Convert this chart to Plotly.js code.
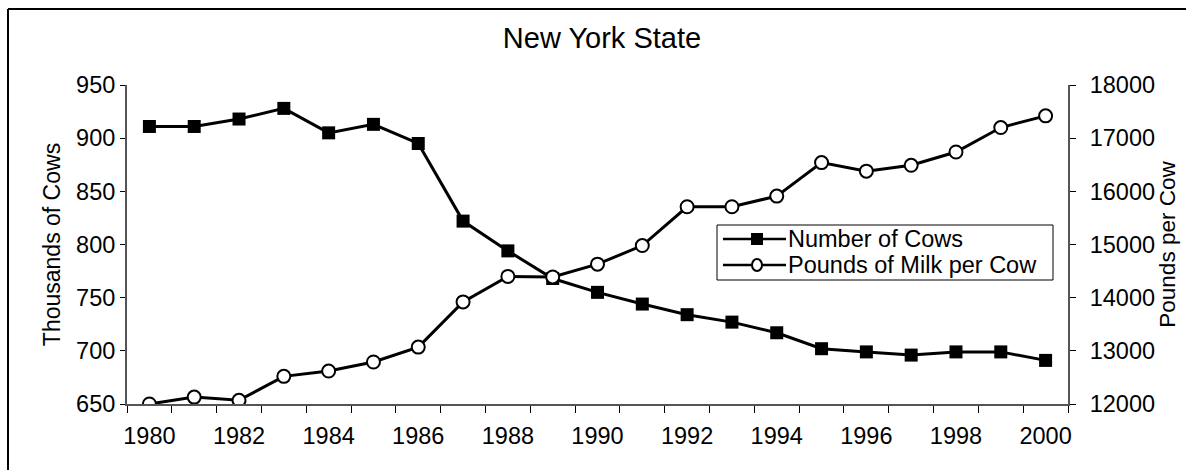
<!DOCTYPE html>
<html>
<head>
<meta charset="utf-8">
<script src="https://cdn.plot.ly/plotly-3.0.1.min.js"></script>
<style>html,body{margin:0;padding:0;background:#fff;}#chart{width:1186px;height:470px;}</style>
</head>
<body>
<div id="chart"></div>
<script>
const years = [1980,1981,1982,1983,1984,1985,1986,1987,1988,1989,1990,1991,1992,1993,1994,1995,1996,1997,1998,1999,2000];
const cows = [911,911,918,928,905,913,895,822,794,768,755,744,734,727,717,702,699,696,699,699,691];
const milkPerCow = [12000,12130,12070,12520,12620,12790,13070,13920,14400,14390,14630,14980,15710,15710,15910,16540,16380,16490,16740,17200,17420];
const cowsName = "Number of Cows";
const milkName = "Pounds of Milk per Cow";
const chartTitle = "New York State";
const leftTitle = "Thousands of Cows";
const rightTitle = "Pounds per Cow";

const FONT = "Liberation Sans, Arial, sans-serif";
const W = 1186, H = 470, L = 127, R = 118, T = 85, B = 66;
const pw = W - L - R, ph = H - T - B;
const px = x => (x - L) / pw;
const py = y => (H - B - y) / ph;

const traces = [
  {x: years, y: cows, name: cowsName, type: 'scatter', mode: 'lines+markers', yaxis: 'y',
   line: {color: '#000', width: 3},
   marker: {symbol: 'square', size: 13, color: '#000', line: {color: '#000', width: 0}}},
  {x: years, y: milkPerCow, name: milkName, type: 'scatter', mode: 'lines+markers', yaxis: 'y2',
   line: {color: '#000', width: 3},
   marker: {symbol: 'circle', size: 13, color: '#fff', line: {color: '#000', width: 2}}}
];

// legend drawn as a framed box (Excel style)
const lgX0 = 717, lgX1 = 1053, lgY0 = 225, lgY1 = 280;
const rowY = [239, 265];
const lineX0 = 723, lineX1 = 786, symX = 757, textX = 787;

const axisLine = '#555';
const layout = {
  width: W, height: H,
  margin: {l: L, r: R, t: T, b: B, pad: 0},
  paper_bgcolor: '#fff', plot_bgcolor: '#fff',
  font: {family: FONT, size: 23.5, color: '#000'},
  title: {text: chartTitle, font: {family: FONT, size: 29, color: '#000'},
          x: 602 / W, xanchor: 'center', xref: 'container',
          y: 1 - 38 / H, yanchor: 'middle', yref: 'container'},
  showlegend: false,
  xaxis: {range: [1979.5, 2000.5], tickmode: 'linear', tick0: 1980, dtick: 2,
          ticks: 'outside', ticklen: 0, showgrid: false, zeroline: false,
          showline: true, linecolor: axisLine, linewidth: 2,
          tickfont: {family: FONT, size: 23.5},
          ticklabelstandoff: 10,
          minor: {tick0: 1979.5, dtick: 1, ticks: 'outside', ticklen: 7, tickcolor: '#000', tickwidth: 1, showgrid: false}},
  yaxis: {range: [650, 950], tickmode: 'linear', tick0: 650, dtick: 50,
          ticks: 'outside', ticklen: 5, tickcolor: '#000', showgrid: false, zeroline: false,
          showline: true, linecolor: axisLine, linewidth: 2,
          tickfont: {family: FONT, size: 23.5}, ticklabelstandoff: 0,
          title: {text: leftTitle, font: {family: FONT, size: 23}, standoff: 9}},
  yaxis2: {range: [12000, 18000], tickmode: 'linear', tick0: 12000, dtick: 1000, tickformat: 'd',
           overlaying: 'y', side: 'right',
           ticks: 'outside', ticklen: 6, tickcolor: '#000', showgrid: false, zeroline: false,
           showline: true, linecolor: axisLine, linewidth: 2,
           tickfont: {family: FONT, size: 23.5}, ticklabelstandoff: 9,
           title: {text: rightTitle, font: {family: FONT, size: 22.5}, standoff: 4}},
  annotations: [
    {xref: 'paper', yref: 'paper', x: px(textX), y: py(rowY[0]), xanchor: 'left', yanchor: 'middle',
     text: cowsName, showarrow: false, font: {family: FONT, size: 23.5, color: '#000'}, borderpad: 0},
    {xref: 'paper', yref: 'paper', x: px(textX), y: py(rowY[1]), xanchor: 'left', yanchor: 'middle',
     text: milkName, showarrow: false, font: {family: FONT, size: 23.5, color: '#000'}, borderpad: 0}
  ],
  shapes: [
    {type: 'line', xref: 'paper', yref: 'paper', x0: px(8), x1: px(8), y0: py(H + 5), y1: py(9),
     line: {color: '#000', width: 2}},
    {type: 'line', xref: 'paper', yref: 'paper', x0: px(8), x1: px(W + 5), y0: py(9), y1: py(9),
     line: {color: '#000', width: 2}},
    {type: 'rect', xref: 'paper', yref: 'paper', x0: px(lgX0), x1: px(lgX1), y0: py(lgY1), y1: py(lgY0),
     fillcolor: '#fff', line: {color: '#000', width: 1}, layer: 'above'},
    {type: 'line', xref: 'paper', yref: 'paper', x0: px(lineX0), x1: px(lineX1), y0: py(rowY[0]), y1: py(rowY[0]),
     line: {color: '#000', width: 2.5}, layer: 'above'},
    {type: 'rect', xref: 'paper', yref: 'paper', x0: px(symX - 6), x1: px(symX + 6), y0: py(rowY[0] + 6), y1: py(rowY[0] - 6),
     fillcolor: '#000', line: {color: '#000', width: 0}, layer: 'above'},
    {type: 'line', xref: 'paper', yref: 'paper', x0: px(lineX0), x1: px(lineX1), y0: py(rowY[1]), y1: py(rowY[1]),
     line: {color: '#000', width: 2.5}, layer: 'above'},
    {type: 'circle', xref: 'paper', yref: 'paper', x0: px(symX - 5), x1: px(symX + 5), y0: py(rowY[1] + 6), y1: py(rowY[1] - 6),
     fillcolor: '#fff', line: {color: '#000', width: 2}, layer: 'above'}
  ]
};

Plotly.newPlot('chart', traces, layout, {displayModeBar: false, staticPlot: true});
</script>
</body>
</html>
